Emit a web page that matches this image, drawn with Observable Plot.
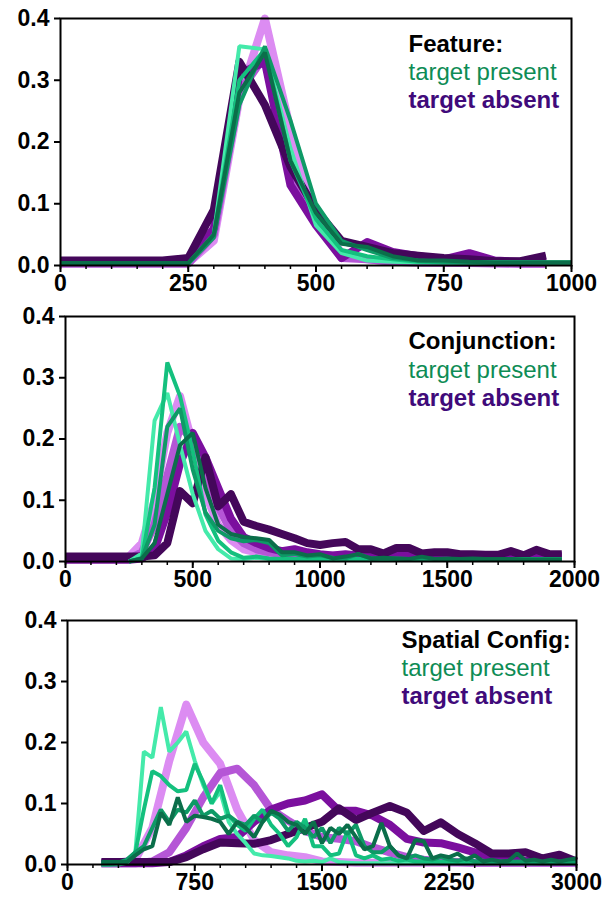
<!DOCTYPE html>
<html><head><meta charset="utf-8">
<script src="https://cdn.jsdelivr.net/npm/d3@7"></script>
<script src="https://cdn.jsdelivr.net/npm/@observablehq/plot@0.6"></script>
<style>
body{margin:0;background:#fff;}
#chart{width:614px;}
#chart svg{display:block;}
</style></head><body><div id="chart"></div>
<script>
// ---------- Feature search ----------
const featureAbsentBins = [0,50,100,150,200,250,300,350,400,450,500,550,600,650,700,750,800,850,900,950];
const featurePresentBins = [0,50,100,150,200,250,300,350,400,450,500,550,600,650,700,750,800,850,900,950,1000];
const featureAbsent1 = [0.004,0.004,0.004,0.004,0.004,0.004,0.04,0.27,0.40,0.22,0.08,0.02,0.01,0.006,0.005,0.004,0.004,0.003,0.003,0.003];
const featureAbsent2 = [0.003,0.003,0.003,0.003,0.003,0.003,0.05,0.28,0.34,0.15,0.07,0.012,0.01,0.006,0.005,0.005,0.004,0.004,0.003,0.003];
const featureAbsent3 = [0.006,0.006,0.006,0.006,0.006,0.008,0.06,0.31,0.33,0.13,0.065,0.012,0.038,0.022,0.015,0.01,0.02,0.008,0.006,0.012];
const featureAbsent4 = [0.008,0.008,0.008,0.008,0.008,0.012,0.09,0.33,0.26,0.16,0.09,0.04,0.03,0.02,0.016,0.012,0.01,0.007,0.007,0.016];
const featurePresent1 = [0.003,0.003,0.003,0.003,0.003,0.003,0.05,0.355,0.35,0.19,0.065,0.02,0.008,0.006,0.005,0.005,0.005,0.005,0.005,0.005,0.005];
const featurePresent2 = [0.003,0.003,0.003,0.003,0.003,0.003,0.05,0.30,0.35,0.17,0.075,0.025,0.015,0.01,0.006,0.005,0.005,0.005,0.005,0.005,0.005];
const featurePresent3 = [0.003,0.003,0.003,0.003,0.003,0.003,0.045,0.26,0.355,0.235,0.10,0.04,0.025,0.012,0.008,0.006,0.005,0.005,0.005,0.005,0.005];
const featurePresent4 = [0.004,0.004,0.004,0.004,0.004,0.004,0.05,0.28,0.345,0.17,0.085,0.035,0.03,0.015,0.008,0.008,0.006,0.005,0.005,0.005,0.005];
const featureMajorTicks = [0,250,500,750,1000];
const featureMinorTicks = [0,50,100,150,200,250,300,350,400,450,500,550,600,650,700,750,800,850,900,950,1000];

// ---------- Conjunction search ----------
const conjAbsentBins = [0,50,100,150,200,250,300,350,400,450,500,550,600,650,700,750,800,850,900,950,1000,1050,1100,1150,1200,1250,1300,1350,1400,1450,1500,1550,1600,1650,1700,1750,1800,1850,1900,1950];
const conjPresentBins = [250,300,350,400,450,500,550,600,650,700,750,800,850,900,950,1000,1050,1100,1150,1200,1250,1300,1350,1400,1450,1500,1550,1600,1650,1700,1750,1800,1850,1900,1950];
const conjAbsent1 = [0.005,0.005,0.005,0.005,0.005,0.008,0.03,0.10,0.21,0.27,0.19,0.11,0.06,0.035,0.02,0.015,0.012,0.01,0.01,0.01,0.01,0.01,0.01,0.01,0.01,0.01,0.01,0.01,0.01,0.01,0.012,0.01,0.01,0.01,0.01,0.01,0.01,0.01,0.01,0.01];
const conjAbsent2 = [0.004,0.004,0.004,0.004,0.004,0.004,0.015,0.06,0.14,0.22,0.20,0.15,0.09,0.05,0.03,0.02,0.015,0.012,0.01,0.01,0.009,0.009,0.009,0.008,0.008,0.008,0.008,0.008,0.008,0.008,0.008,0.008,0.008,0.008,0.008,0.008,0.008,0.008,0.008,0.008];
const conjAbsent3 = [0.003,0.003,0.003,0.003,0.003,0.003,0.005,0.02,0.08,0.16,0.21,0.17,0.12,0.07,0.04,0.03,0.022,0.017,0.02,0.015,0.012,0.01,0.012,0.01,0.01,0.009,0.009,0.009,0.008,0.008,0.008,0.008,0.008,0.008,0.008,0.008,0.008,0.008,0.008,0.008];
const conjAbsent4 = [0.008,0.008,0.008,0.008,0.008,0.008,0.008,0.01,0.03,0.115,0.095,0.17,0.09,0.11,0.065,0.058,0.052,0.045,0.038,0.03,0.027,0.03,0.032,0.02,0.02,0.013,0.022,0.022,0.013,0.015,0.015,0.012,0.012,0.011,0.011,0.017,0.01,0.019,0.012,0.012];
const conjPresent1 = [0,0.013,0.23,0.275,0.19,0.11,0.05,0.02,0.005,0.004,0.006,0.004,0.004,0.003,0.003,0.003,0.003,0.003,0.003,0.003,0.003,0.003,0.003,0.003,0.003,0.003,0.003,0.003,0.003,0.003,0.003,0.003,0.003,0.003,0.003];
const conjPresent2 = [0,0.006,0.12,0.325,0.27,0.18,0.077,0.034,0.015,0.006,0.008,0.005,0.004,0.004,0.004,0.004,0.004,0.004,0.004,0.004,0.004,0.004,0.004,0.004,0.004,0.004,0.004,0.004,0.004,0.004,0.004,0.004,0.004,0.004,0.004];
const conjPresent3 = [0,0.005,0.06,0.22,0.25,0.15,0.08,0.05,0.038,0.033,0.035,0.03,0.01,0.012,0.008,0.01,0.006,0.005,0.012,0.005,0.005,0.005,0.004,0.004,0.004,0.004,0.004,0.004,0.004,0.004,0.004,0.004,0.004,0.004,0.004];
const conjPresent4 = [0,0.005,0.03,0.11,0.19,0.21,0.12,0.06,0.045,0.04,0.038,0.035,0.015,0.015,0.01,0.012,0.005,0.008,0.012,0.005,0.006,0.005,0.004,0.008,0.004,0.005,0.004,0.005,0.004,0.004,0.004,0.003,0.003,0.003,0.003];
const conjMajorTicks = [0,500,1000,1500,2000];
const conjMinorTicks = [0,100,200,300,400,500,600,700,800,900,1000,1100,1200,1300,1400,1500,1600,1700,1800,1900,2000];

// ---------- Spatial configuration search ----------
const spatAbsentBins = [200,300,400,500,600,700,800,900,1000,1100,1200,1300,1400,1500,1600,1700,1800,1900,2000,2100,2200,2300,2400,2500,2600,2700,2800,2900,3000];
const spatPresentBins = [200,250,300,350,400,450,500,550,600,650,700,750,800,850,900,950,1000,1050,1100,1150,1200,1250,1300,1350,1400,1450,1500,1550,1600,1650,1700,1750,1800,1850,1900,1950,2000,2050,2100,2150,2200,2250,2300,2350,2400,2450,2500,2550,2600,2650,2700,2750,2800,2850,2900,2950,3000];
const spatAbsent1 = [0.003,0.003,0.008,0.06,0.17,0.262,0.2,0.165,0.09,0.04,0.02,0.015,0.012,0.005,0.004,0.003,0.003,0.003,0.003,0.003,0.003,0.003,0.003,0.003,0.003,0.003,0.003,0.003,0.003];
const spatAbsent2 = [0.002,0.002,0.002,0.005,0.02,0.06,0.11,0.15,0.157,0.13,0.09,0.072,0.055,0.045,0.042,0.038,0.028,0.02,0.012,0.008,0.005,0.004,0.003,0.003,0.003,0.003,0.003,0.003,0.003];
const spatAbsent3 = [0.002,0.002,0.002,0.002,0.004,0.015,0.03,0.042,0.045,0.07,0.09,0.10,0.105,0.115,0.088,0.088,0.08,0.065,0.042,0.036,0.035,0.028,0.02,0.012,0.008,0.006,0.005,0.005,0.005];
const spatAbsent4 = [0.004,0.004,0.004,0.004,0.004,0.012,0.025,0.036,0.035,0.034,0.04,0.05,0.06,0.07,0.092,0.073,0.085,0.096,0.085,0.055,0.069,0.05,0.035,0.018,0.018,0.02,0.01,0.016,0.005];
const spatPresent1 = [0,0,0,0.003,0.02,0.185,0.175,0.258,0.185,0.2,0.218,0.17,0.13,0.1,0.12,0.07,0.05,0.035,0.018,0.015,0.014,0.012,0.01,0.006,0.005,0.006,0.004,0.01,0.004,0.003,0.002,0.002,0.002,0.002,0.002,0.002,0.002,0.002,0.002,0.002,0.002,0.002,0.002,0.002,0.002,0.002,0.002,0.002,0.002,0.002,0.002,0.002,0.002,0.002,0.002,0.002,0.002];
const spatPresent2 = [0,0,0.002,0.005,0.02,0.09,0.153,0.145,0.13,0.12,0.122,0.165,0.135,0.1,0.13,0.08,0.065,0.055,0.075,0.09,0.065,0.05,0.03,0.045,0.075,0.03,0.03,0.015,0.018,0.055,0.015,0.01,0.015,0.008,0.01,0.006,0.008,0.005,0.005,0.004,0.004,0.004,0.004,0.004,0.004,0.004,0.004,0.004,0.004,0.004,0.004,0.004,0.004,0.004,0.004,0.004,0.004];
const spatPresent3 = [0.002,0.002,0.003,0.008,0.02,0.03,0.06,0.09,0.07,0.09,0.085,0.105,0.08,0.088,0.075,0.08,0.07,0.065,0.08,0.07,0.085,0.075,0.055,0.07,0.06,0.045,0.06,0.035,0.06,0.05,0.065,0.03,0.02,0.02,0.03,0.015,0.01,0.015,0.01,0.008,0.012,0.008,0.006,0.01,0.005,0.006,0.005,0.005,0.004,0.005,0.004,0.005,0.004,0.004,0.004,0.004,0.004];
const spatPresent4 = [0.004,0.004,0.004,0.004,0.015,0.025,0.03,0.085,0.065,0.11,0.07,0.08,0.078,0.075,0.07,0.05,0.07,0.06,0.045,0.07,0.088,0.082,0.07,0.065,0.05,0.07,0.035,0.06,0.05,0.065,0.045,0.025,0.03,0.068,0.03,0.015,0.01,0.04,0.038,0.01,0.015,0.012,0.018,0.008,0.015,0.005,0.008,0.005,0.006,0.018,0.006,0.008,0.005,0.008,0.005,0.008,0.01];
const spatMajorTicks = [0,750,1500,2250,3000];
const spatMinorTicks = [0,150,300,450,600,750,900,1050,1200,1350,1500,1650,1800,1950,2100,2250,2400,2550,2700,2850,3000];

const yTicks = [0,0.1,0.2,0.3,0.4];
const absentColors = ["#dc8cf2","#b556d6","#7b0f9e","#44075a"];
const presentColors = ["#44eaaa","#14c07e","#0e9a66","#0b6e4a"];

const FONT = "'Liberation Sans', Arial, Helvetica, sans-serif";

function rows(bins, vals){ return bins.map((x,i)=>({x, y: vals[i]})); }

function panel(cfg){
  const marks = [];
  cfg.absent.forEach((vals,i)=>{
    marks.push(Plot.line(rows(cfg.absentBins, vals), {x:"x", y:"y", stroke: absentColors[i], strokeWidth: 8, strokeLinejoin:"round", strokeLinecap:"butt"}));
  });
  cfg.present.forEach((vals,i)=>{
    marks.push(Plot.line(rows(cfg.presentBins, vals), {x:"x", y:"y", stroke: presentColors[i], strokeWidth: 4, strokeLinejoin:"miter", strokeLinecap:"butt"}));
  });
  marks.push(Plot.frame({stroke:"black", strokeWidth:2}));
  marks.push(Plot.axisY({ticks: yTicks, tickFormat: d3.format(".1f"), tickSize: 6, tickPadding: 5, fontSize: 23, fontWeight: "bold", label: null, strokeWidth: 2}));
  marks.push(Plot.axisX({ticks: cfg.minor, tickSize: 4, tickFormat: () => "", label: null, strokeWidth: 1.5}));
  marks.push(Plot.axisX({ticks: cfg.major, tickSize: 7, tickPadding: 2, tickFormat: d => String(d), fontSize: 23, fontWeight: "bold", label: null, strokeWidth: 2}));
  const lx = cfg.legendDx;
  marks.push(Plot.text([cfg.title], {frameAnchor:"top-right", text: d=>d, textAnchor:"start", lineAnchor:"middle", dx: lx, dy: cfg.legendDy[0], fontSize: 24, fontWeight:"bold", fill:"black"}));
  marks.push(Plot.text(["target present"], {frameAnchor:"top-right", text: d=>d, textAnchor:"start", lineAnchor:"middle", dx: lx, dy: cfg.legendDy[1], fontSize: 24, fill:"#0e8c55"}));
  marks.push(Plot.text(["target absent"], {frameAnchor:"top-right", text: d=>d, textAnchor:"start", lineAnchor:"middle", dx: lx, dy: cfg.legendDy[2], fontSize: 24, fontWeight:"bold", fill:"#400a7a"}));
  return Plot.plot({
    width: 614, height: cfg.height,
    marginLeft: cfg.ml, marginRight: cfg.mr, marginTop: cfg.mt, marginBottom: cfg.mb,
    style: {fontFamily: FONT, background: "white", color: "black", overflow: "visible"},
    x: {domain: cfg.domain, label: null},
    y: {domain: [0,0.4], label: null},
    marks
  });
}

const chart = document.getElementById("chart");
chart.appendChild(panel({
  absentBins: featureAbsentBins, presentBins: featurePresentBins,
  absent: [featureAbsent1, featureAbsent2, featureAbsent3, featureAbsent4],
  present: [featurePresent1, featurePresent2, featurePresent3, featurePresent4],
  domain: [0,1000], major: featureMajorTicks, minor: featureMinorTicks,
  title: "Feature:", height: 300, ml: 60, mr: 43, mt: 18, mb: 35, legendDx: -163, legendDy: [26,54,82]
}));
chart.appendChild(panel({
  absentBins: conjAbsentBins, presentBins: conjPresentBins,
  absent: [conjAbsent1, conjAbsent2, conjAbsent3, conjAbsent4],
  present: [conjPresent1, conjPresent2, conjPresent3, conjPresent4],
  domain: [0,2000], major: conjMajorTicks, minor: conjMinorTicks,
  title: "Conjunction:", height: 300, ml: 65, mr: 40, mt: 16, mb: 39, legendDx: -166, legendDy: [25,54,82]
}));
chart.appendChild(panel({
  absentBins: spatAbsentBins, presentBins: spatPresentBins,
  absent: [spatAbsent1, spatAbsent2, spatAbsent3, spatAbsent4],
  present: [spatPresent1, spatPresent2, spatPresent3, spatPresent4],
  domain: [0,3000], major: spatMajorTicks, minor: spatMinorTicks,
  title: "Spatial Config:", height: 305, ml: 67, mr: 38, mt: 20, mb: 41, legendDx: -175, legendDy: [20,48,76]
}));
</script></body></html>
